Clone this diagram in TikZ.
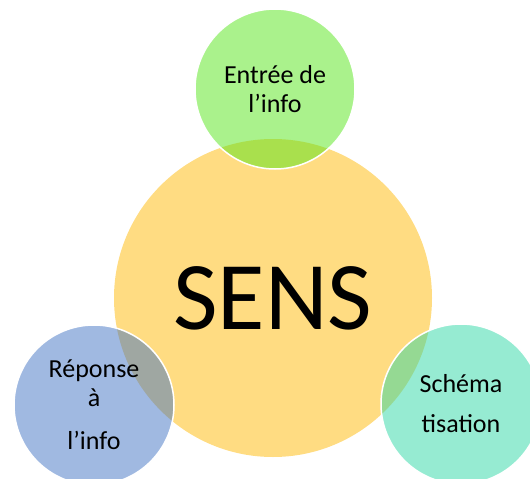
\documentclass[tikz,border=0pt]{standalone}
\usepackage{fontspec}
\setmainfont{Carlito}
\usepackage{tikz}
\usepackage{xcolor}
\definecolor{sensyellow}{RGB}{255,220,130}
\definecolor{entreegreen}{RGB}{85,229,25}
\definecolor{reponseblue}{RGB}{65,115,195}
\definecolor{schemateal}{RGB}{45,215,165}
\tikzstyle{bigcircle} = [circle, fill=sensyellow, inner sep=0, minimum size=318pt,
    font=\fontsize{97}{104}\selectfont]
\tikzstyle{smallcircle} = [circle, draw=white, line width=1.5pt, fill opacity=0.5,
    text opacity=1, text=black, inner sep=0, minimum size=160pt, align=center,
    font=\fontsize{26}{29}\selectfont]

\begin{document}
\begin{tikzpicture}[x=1pt,y=1pt]
\useasboundingbox (0,0) rectangle (530,-479);
\node [bigcircle] (sens) at (273,-298) {SENS};
\node [smallcircle, fill=entreegreen] (entree) at (275,-89) {Entrée de\\l’info};
\node [smallcircle, fill=reponseblue] (reponse) at (94,-405) {Réponse\\à\\[14pt]l’info};
\node [smallcircle, fill=schemateal] (schema) at (461,-404) {Schéma\\[11pt]tisation};
\end{tikzpicture}
\end{document}
